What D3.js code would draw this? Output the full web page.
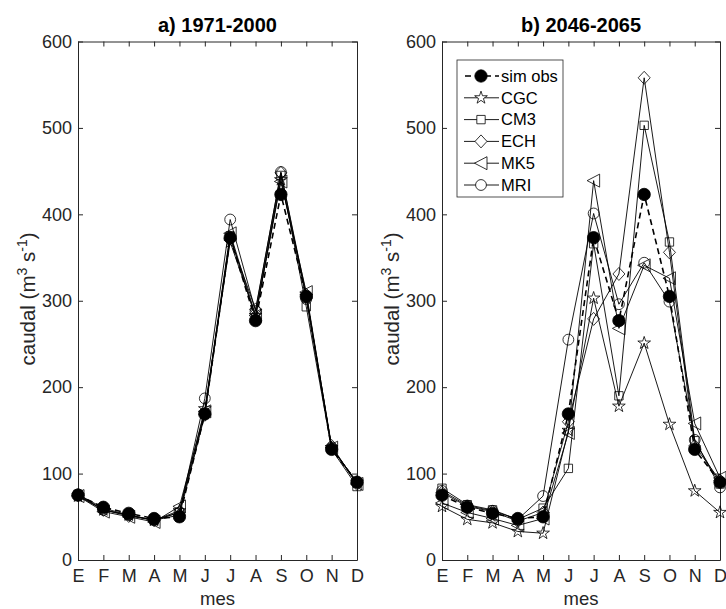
<!DOCTYPE html>
<html>
<head>
<meta charset="utf-8">
<script src="https://cdn.jsdelivr.net/npm/d3@7"></script>
<style>
  body { margin: 0; background: #fff; }
  text { font-family: "Liberation Sans", Arial, sans-serif; fill: #262626; }
</style>
</head>
<body>
<svg id="chart" width="726" height="609"></svg>
<script>
var width = 726, height = 609;

// months (Spanish initials)
var months = ["E","F","M","A","M","J","J","A","S","O","N","D"];
var yTicks = [0,100,200,300,400,500,600];

// observed (simulated with observed forcing), same in both panels
var simObs = [75, 61, 54, 48, 50, 169, 373, 277, 423, 305, 128, 90];

// a) 1971-2000
var cgcA = [74, 58, 52, 46, 57, 175, 368, 283, 440, 305, 130, 90];
var cm3A = [76, 60, 52, 46, 55, 170, 375, 280, 445, 293, 128, 85];
var echA = [75, 58, 51, 46, 52, 168, 372, 290, 448, 307, 132, 88];
var mk5A = [74, 56, 50, 44, 62, 172, 378, 283, 438, 310, 130, 88];
var mriA = [76, 58, 52, 46, 55, 187, 394, 288, 449, 302, 130, 90];

// b) 2046-2065
var cgcB = [62, 47, 43, 33, 31, 150, 303, 178, 251, 157, 80, 55];
var cm3B = [83, 64, 58, 47, 60, 106, 366, 190, 503, 368, 138, 88];
var echB = [78, 62, 56, 45, 55, 160, 279, 331, 558, 356, 132, 92];
var mk5B = [66, 55, 48, 40, 48, 147, 439, 268, 341, 326, 158, 95];
var mriB = [80, 63, 57, 47, 74, 255, 401, 296, 344, 299, 139, 84];

var seriesNames = ["sim obs","CGC","CM3","ECH","MK5","MRI"];
var markers = ["dot","star","square","diamond","left","circle"];

var svg = d3.select("#chart");
var axisColor = "#262626";

function markerPath(type) {
  if (type == "star") return d3.symbol().type(d3.symbolStar).size(50)();
  if (type == "square") return d3.symbol().type(d3.symbolSquare).size(70)();
  if (type == "diamond") return "M0,-6.5L6,0L0,6.5L-6,0Z";
  if (type == "left") return "M-6.5,0L6,-6.5L6,6.5Z";
  if (type == "circle") return d3.symbol().type(d3.symbolCircle).size(92)();
  return d3.symbol().type(d3.symbolCircle).size(120)();
}

function panel(x0, x1, title, data, showLegend) {
  var x = d3.scaleLinear().domain([1,12]).range([x0, x1]);
  var y = d3.scaleLinear().domain([0,600]).range([560, 41.5]);
  var g = svg.append("g");

  // axes, ticks pointing inward, box all round
  var ax = g.append("g").attr("transform","translate(0,560)")
    .call(d3.axisBottom(x).tickValues(d3.range(1,13)).tickFormat(function(d){ return months[d-1]; })
      .tickSizeInner(-5).tickSizeOuter(0).tickPadding(9));
  ax.selectAll("text").style("font-size","18px").attr("dy","0.72em");
  var ay = g.append("g").attr("transform","translate("+x0+",0)")
    .call(d3.axisLeft(y).tickValues(yTicks).tickSizeInner(-5).tickSizeOuter(0).tickPadding(6));
  ay.selectAll("text").style("font-size","18px");
  g.append("g").attr("transform","translate(0,41.5)")
    .call(d3.axisTop(x).tickValues(d3.range(1,13)).tickFormat("").tickSizeInner(-5).tickSizeOuter(0));
  g.append("g").attr("transform","translate("+x1+",0)")
    .call(d3.axisRight(y).tickValues(yTicks).tickFormat("").tickSizeInner(-5).tickSizeOuter(0));
  g.selectAll(".domain, .tick line").attr("stroke", axisColor);
  g.selectAll(".tick text").attr("fill", axisColor).style("font-family","Liberation Sans, Arial, sans-serif");

  // title
  g.append("text").attr("x",(x0+x1)/2).attr("y",32).attr("text-anchor","middle")
    .style("font-size","20px").style("font-weight","bold").style("fill","#000")
    .text(title);
  // x label
  g.append("text").attr("x",(x0+x1)/2).attr("y",605).attr("text-anchor","middle")
    .style("font-size","18.5px").text("mes");
  // y label
  var yl = g.append("text").attr("transform","translate("+(x0-43)+",299) rotate(-90)")
    .attr("text-anchor","middle").style("font-size","20.5px");
  yl.append("tspan").text("caudal (m");
  yl.append("tspan").attr("dy","-8").style("font-size","14px").text("3");
  yl.append("tspan").attr("dy","8").text(" s");
  yl.append("tspan").attr("dy","-8").style("font-size","14px").text("-1");
  yl.append("tspan").attr("dy","8").text(")");

  var line = d3.line().x(function(d,i){ return x(i+1); }).y(function(d){ return y(d); });

  // models first, sim obs on top
  var order = [1,2,3,4,5,0];
  order.forEach(function(s) {
    var vals = data[s];
    g.append("path").attr("d", line(vals)).attr("fill","none").attr("stroke","#000")
      .attr("stroke-width", s == 0 ? 1.6 : 0.9)
      .attr("stroke-dasharray", s == 0 ? "6,4" : null);
    g.selectAll(null).data(vals).enter().append("path")
      .attr("d", markerPath(markers[s]))
      .attr("transform", function(d,i){ return "translate("+x(i+1)+","+y(d)+")"; })
      .attr("fill", s == 0 ? "#000" : "none")
      .attr("stroke","#000").attr("stroke-width", 0.8);
  });

  if (showLegend) {
    var lg = g.append("g");
    lg.append("rect").attr("x",457).attr("y",60).attr("width",106).attr("height",137)
      .attr("fill","#fff").attr("stroke",axisColor).attr("stroke-width",0.8);
    seriesNames.forEach(function(name, s) {
      var yy = 76 + s * 21.8;
      lg.append("line").attr("x1",464).attr("x2",499).attr("y1",yy).attr("y2",yy)
        .attr("stroke","#000").attr("stroke-width", s == 0 ? 1.6 : 0.9)
        .attr("stroke-dasharray", s == 0 ? "6,4" : null)
        .attr("stroke-dashoffset", s == 0 ? -1 : null);
      lg.append("path").attr("d", markerPath(markers[s]))
        .attr("transform","translate(481,"+yy+")")
        .attr("fill", s == 0 ? "#000" : "#fff").attr("stroke","#000").attr("stroke-width",0.8);
      lg.append("text").attr("x",501).attr("y",yy).attr("dy","0.35em")
        .style("font-size","16.5px").style("fill","#000").text(name);
    });
  }
}

panel(78, 357, "a) 1971-2000", [simObs, cgcA, cm3A, echA, mk5A, mriA], false);
panel(442, 720, "b) 2046-2065", [simObs, cgcB, cm3B, echB, mk5B, mriB], true);
</script>
</body>
</html>
